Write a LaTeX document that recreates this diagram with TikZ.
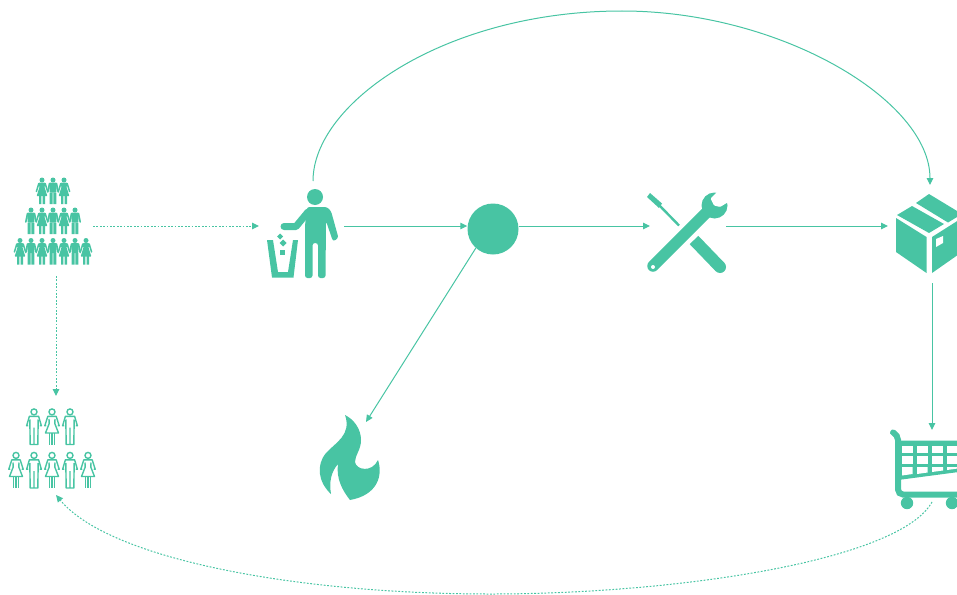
\documentclass[tikz,border=0pt]{standalone}
\usepackage{xcolor}
\usepackage{tikz}
\usetikzlibrary{arrows.meta,positioning}
\definecolor{mint}{RGB}{72,196,163}

\begin{document}
\begin{tikzpicture}[
  x=1pt, y=-1pt,
  slot/.style={inner sep=0pt, outer sep=0pt, minimum width=#1},
  arr/.style={-{Triangle[length=7pt,width=6.5pt]}, mint, line width=1pt},
  dotarr/.style={arr, dash pattern=on 1.8pt off 1.6pt},
  manfill/.pic={
    \fill[mint] (0,2.5) circle (2.5);
    \fill[mint, rounded corners=0.8pt] (-3.7,5.2) -- (3.7,5.2) -- (3.4,15) -- (-3.4,15) -- cycle;
    \draw[mint, line width=1.6pt, line cap=round] (-3.5,6) -- (-5.2,14.5) (3.5,6) -- (5.2,14.5);
    \fill[mint] (-3.4,15) rectangle (-0.4,26.5) (0.4,15) rectangle (3.4,26.5);
  },
  womanfill/.pic={
    \fill[mint] (0,2.5) circle (2.5);
    \fill[mint, rounded corners=0.6pt] (-3.2,5.2) -- (3.2,5.2) -- (2.6,10) -- (5.4,18.5) -- (-5.4,18.5) -- (-2.6,10) -- cycle;
    \draw[mint, line width=1.5pt, line cap=round] (-3.2,6) -- (-5.6,14) (3.2,6) -- (5.6,14);
    \fill[mint] (-3,18) rectangle (-0.6,26.5) (0.6,18) rectangle (3,26.5);
  },
  manline/.pic={
    \draw[mint, line width=1.4pt] (0,3.4) circle (3);
    \draw[mint, line width=1.4pt, line join=round] (-5.8,17) -- (-7.4,17.3) -- (-4.6,7.8) -- (4.6,7.8) -- (7.4,17.3) -- (5.8,17);
    \draw[mint, line width=1.4pt, line join=round] (-4.2,11) -- (-3.8,36) -- (3.8,36) -- (4.2,11) (0,19) -- (0,36);
  },
  womanline/.pic={
    \draw[mint, line width=1.4pt] (0,3.4) circle (3);
    \draw[mint, line width=1.4pt, line join=round] (-5.8,17) -- (-7.2,17.3) -- (-4.2,7.8) -- (4.2,7.8) -- (7.2,17.3) -- (5.8,17);
    \draw[mint, line width=1.4pt, line join=round] (-3,10.5) -- (-2.8,15) -- (-6.5,24.5) -- (6.5,24.5) -- (2.8,15) -- (3,10.5);
    \draw[mint, line width=1.2pt] (-2.8,24.5) -- (-2.8,36) (-0.8,24.5) -- (-0.8,36) (0.8,24.5) -- (0.8,36) (2.8,24.5) -- (2.8,36);
  }
]
  \useasboundingbox (0,0) rectangle (957,594);

  % slots that the arrows attach to
  \node[slot=74pt, minimum height=100pt] (crowd) at (56,226) {};
  \node[slot=85pt, minimum height=90pt] (bin) at (301.5,226) {};
  \node[circle, fill=mint, inner sep=0pt, minimum size=51pt] (hub) at (493,229) {};
  \node[slot=76pt, minimum height=85pt] (tools) at (688,226) {};
  \node[slot=88pt, minimum height=98pt] (pack) at (932,234) {};
  \node[slot=32pt, minimum height=72pt] (flame) at (350,458) {};
  \node[slot=88pt, minimum height=70pt] (cart) at (932,465) {};
  \node[slot=90pt, minimum height=99pt] (people) at (56,445.5) {};

  % crowd
  \foreach \px in {42,64} \pic at (\px,177.5) {womanfill};
  \pic at (53,177.5) {manfill};
  \foreach \px in {31,53,75} \pic at (\px,207.5) {manfill};
  \foreach \px in {42,64} \pic at (\px,207.5) {womanfill};
  \foreach \px in {20,42,64,86} \pic at (\px,238) {womanfill};
  \foreach \px in {31,53,75} \pic at (\px,238) {manfill};

  % people
  \foreach \px in {34,70} \pic at (\px,408.5) {manline};
  \pic at (52,408.5) {womanline};
  \foreach \px in {16,52,88} \pic at (\px,452) {womanline};
  \foreach \px in {34,70} \pic at (\px,452) {manline};

  % man at the bin
  \fill[mint] (315,197) circle (8);
  \fill[mint, rounded corners=2.5pt] (307,207) -- (327,207) -- (331,211) -- (338.5,238) -- (333,241.5) -- (326,221) -- (325.5,278) -- (318,278) -- (318,243) -- (312.5,243) -- (312.5,278) -- (305,278) -- (305,226) -- cycle;
  \draw[mint, line width=7pt, line cap=round, line join=round] (284,226.5) -- (296,226.5) -- (308,212);
  \fill[mint] (267,240) -- (273,240) -- (278,272) -- (288,272) -- (293,240) -- (298,240) -- (293.5,277.5) -- (272,277.5) -- cycle;
  \fill[mint] (280,233.5) -- (283,236.5) -- (280,239.5) -- (277,236.5) -- cycle;
  \fill[mint] (283,239.5) -- (286.5,243) -- (283,246.5) -- (279.5,243) -- cycle;
  \fill[mint] (279.5,249.5) rectangle (284.5,254.5);

  % tools
  \fill[mint] (647,197) -- (650,193) -- (662,203.5) -- (659,208) -- cycle;
  \draw[mint, line width=2.4pt] (659,205) -- (679,225.5);
  \draw[mint, line width=12pt] (694,240) -- (720,267);
  \fill[mint] (720,267) circle (6);
  \draw[mint, line width=11.5pt, line cap=round] (653,266) -- (708,211);
  \fill[mint] (714.5,205.5) circle (13);
  \fill[white, rounded corners=1pt] (718,191) -- (710.5,198.5) -- (714,205.5) -- (720,207) -- (727.5,202.5) -- (732,190) -- cycle;
  \fill[white] (653,267) circle (2);

  % package
  \fill[mint] (896,218) -- (926.5,237) -- (926.5,273) -- (896,252) -- cycle;
  \fill[mint] (932,237) -- (962,218) -- (962,252) -- (932,273) -- cycle;
  \fill[white] (936,239) -- (943,236) -- (943,243) -- (936,247) -- cycle;
  \fill[mint] (897,215) -- (912,206) -- (944,224) -- (929,233) -- cycle;
  \fill[mint] (916,203) -- (929,194) -- (962,214) -- (948,222.5) -- cycle;

  % flame
  \fill[mint] (345,415) .. controls (355,420) and (361,430) .. (361,440)
    .. controls (361,450) and (355,455) .. (355,462)
    .. controls (356,470) and (372,473) .. (378,460)
    .. controls (383,475) and (378,495) .. (350,500)
    .. controls (342,490) and (336,478) .. (338,464)
    .. controls (331,472) and (329,482) .. (331,494)
    .. controls (318,482) and (316,465) .. (326,453)
    .. controls (335,443) and (352,435) .. (345,415) -- cycle;

  % trolley
  \fill[mint] (898,440.5) -- (970,440.5) -- (970,470.5) -- (898,480) -- cycle;
  \draw[mint, line width=6pt, line cap=round, rounded corners=5pt] (893,432.5) -- (898,435) -- (898,494.5) -- (970,494.5);
  \foreach \cx in {902,917,932,947} {
    \fill[white] (\cx,446) rectangle ++(10.5,6.5);
    \fill[white] (\cx,456) rectangle ++(10.5,7.5);
  }
  \fill[white] (902,467) -- (912.5,467) -- (912.5,474) -- (902,475.5) -- cycle;
  \fill[white] (917,467) -- (927.5,467) -- (927.5,472.5) -- (917,474) -- cycle;
  \fill[white] (932,467) -- (943,467) -- (943,470.5) -- (932,472) -- cycle;
  \fill[white] (947,467) -- (958,467) -- (958,468.5) -- (947,470) -- cycle;
  \fill[mint] (907,503) circle (6.2) (952,503) circle (6.2);

  % connectors
  \draw[dotarr] (crowd.east) -- (bin.west);
  \draw[dotarr] (crowd.south) -- (people.north);
  \draw[arr] (bin.east) -- (bin.east -| hub.west);
  \draw[arr] (tools.west -| hub.east) -- (tools.west);
  \draw[arr] (tools.east) -- (tools.east -| pack.west);
  \draw[arr] (pack.south) -- (cart.north);
  \draw[arr] (hub.228) -- (flame.north east);
  \draw[arr] ([xshift=11.5pt]bin.north) .. controls (313,103) and (445,11) .. (622,11)
    .. controls (780,11) and (930,100) .. ([xshift=-2pt]pack.north);
  \draw[dotarr] ([yshift=-2pt]cart.south) .. controls (900,560) and (680,594) .. (490,594)
    .. controls (300,594) and (110,560) .. (people.south);
\end{tikzpicture}
\end{document}
